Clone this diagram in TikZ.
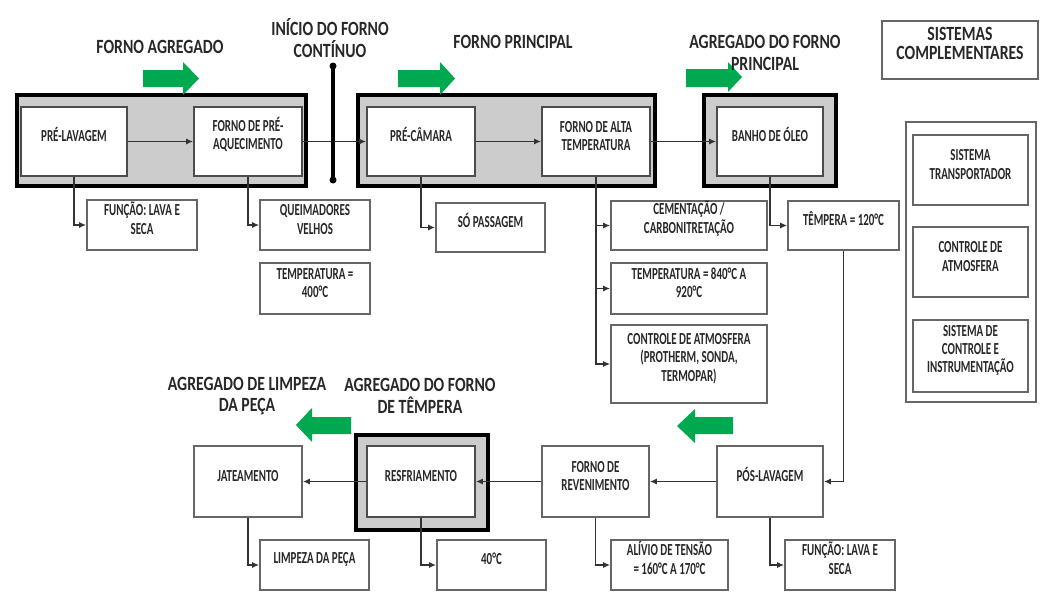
\documentclass[tikz,border=0pt]{standalone}
\usepackage{fontspec}
\setmainfont{Carlito}[FakeStretch=0.78]
\newfontfamily\boxfam{Carlito}[FakeStretch=0.65]
\usetikzlibrary{fit,arrows.meta}
\definecolor{arrowgreen}{RGB}{0,168,80}
\definecolor{ink}{RGB}{40,40,40}
\newcommand{\boxfont}{\boxfam\fontsize{9.6}{10.4}\selectfont\bfseries}
\newcommand{\headfont}{\rmfamily\fontsize{11.5}{12.4}\selectfont\bfseries}
% box from corner (#3,#4) to corner (#5,#6), named #2
\newcommand{\stagebox}[7][inbox]{%
  \node[#1, fit={(#3,#4) (#5,#6)}] (#2) {#7};}
\tikzset{
  inbox/.style={draw=black!70, line width=1pt, fill=white, inner sep=0pt,
    align=center, font=\boxfont, text=ink},
  outbox/.style={draw=black!60, line width=1pt, fill=white, inner sep=0pt,
    align=center, font=\boxfont, text=ink},
  furnace/.style={draw=black, line width=2.2pt, fill=black!20, inner sep=0pt},
  flow/.style={draw=black!80, line width=0.8pt, -{Latex[length=4pt,width=3.5pt]}},
  head/.style={font=\headfont, text=ink, align=center},
  greenarrow/.style={fill=arrowgreen},
}
\begin{document}
\begin{tikzpicture}[x=0.02cm,y=-0.02cm]
\useasboundingbox (0,0) rectangle (1041,613);
\fill[white] (0,0) rectangle (1041,613);

% furnace enclosures
\stagebox[furnace]{agg1}{17}{95}{306}{186}{}
\stagebox[furnace]{main}{358}{95}{655}{186}{}
\stagebox[furnace]{agg2}{704}{95}{836}{186}{}
\stagebox[furnace]{agg3}{356}{435}{488}{530}{}

% main line stages
\stagebox{prelav}{21}{107}{127}{176}{PRÉ-LAVAGEM}
\stagebox{preaq}{194}{107}{302}{176}{FORNO DE PRÉ-\\AQUECIMENTO}
\stagebox{precam}{367}{107}{475}{176}{PRÉ-CÂMARA}
\stagebox{alta}{542}{107}{650}{176}{FORNO DE ALTA\\TEMPERATURA}
\stagebox{banho}{717}{107}{823}{176}{BANHO DE ÓLEO}

% annotations of the upper line
\stagebox[outbox]{func1}{87}{200}{197}{250}{FUNÇÃO: LAVA E\\SECA}
\stagebox[outbox]{queim}{260}{200}{370}{250}{QUEIMADORES\\VELHOS}
\stagebox[outbox]{temp1}{260}{263}{370}{314}{TEMPERATURA =\\400°C}
\stagebox[outbox]{passag}{436}{203}{545}{252}{SÓ PASSAGEM}
\stagebox[outbox]{cement}{611}{201}{767}{250}{CEMENTAÇÃO /\\CARBONITRETAÇÃO}
\stagebox[outbox]{temp2}{611}{263}{767}{314}{TEMPERATURA = 840°C A\\920°C}
\stagebox[outbox]{atmos}{611}{325}{767}{403}{CONTROLE DE ATMOSFERA\\(PROTHERM, SONDA,\\TERMOPAR)}
\stagebox[outbox]{tempera}{788}{201}{899}{250}{TÊMPERA = 120°C}

% lower line stages
\stagebox[outbox]{poslav}{717}{446}{823}{517}{PÓS-LAVAGEM}
\stagebox[outbox]{reven}{542}{446}{649}{517}{FORNO DE\\REVENIMENTO}
\stagebox{resfr}{367}{446}{475}{517}{RESFRIAMENTO}
\stagebox[outbox]{jatea}{194}{446}{302}{517}{JATEAMENTO}

% annotations of the lower line
\stagebox[outbox]{func2}{785}{540}{895}{590}{FUNÇÃO: LAVA E\\SECA}
\stagebox[outbox]{alivio}{611}{540}{728}{590}{ALÍVIO DE TENSÃO\\= 160°C A 170°C}
\stagebox[outbox]{quarenta}{437}{540}{546}{590}{40°C}
\stagebox[outbox]{limpeza}{260}{540}{369}{590}{LIMPEZA DA PEÇA}

% complementary systems
\stagebox[outbox]{sistcomp}{882}{21}{1038}{79}{\headfont SISTEMAS\\\headfont COMPLEMENTARES}
\stagebox[outbox]{sistframe}{906}{122}{1036}{402}{}
\stagebox[outbox]{transp}{913}{135}{1028}{205}{SISTEMA\\TRANSPORTADOR}
\stagebox[outbox]{ctrlatm}{913}{227}{1028}{297}{CONTROLE DE\\ATMOSFERA}
\stagebox[outbox]{instr}{913}{320}{1028}{392}{SISTEMA DE\\CONTROLE E\\INSTRUMENTAÇÃO}

% flow along the upper line
\draw[flow] (prelav) -- (preaq);
\draw[flow] (preaq) -- (precam);
\draw[flow] (precam) -- (alta);
\draw[flow] (alta) -- (banho);

% branches to the annotations
\draw[flow] (prelav.south) |- (func1.west);
\draw[flow] (preaq.south) |- (queim.west);
\draw[flow] (precam.south) |- (passag.west);
\draw[flow] (alta.south) |- (cement.west);
\draw[flow] (alta.south) |- (temp2.west);
\draw[flow] (alta.south) |- (atmos.west);
\draw[flow] (banho.south) |- (tempera.west);
\draw[flow] (tempera.south) |- (poslav.east);

% flow along the lower line
\draw[flow] (poslav) -- (reven);
\draw[flow] (reven) -- (resfr);
\draw[flow] (resfr) -- (jatea);
\draw[flow] (poslav.south) |- (func2.west);
\draw[flow] (reven.south) |- (alivio.west);
\draw[flow] (resfr.south) |- (quarenta.west);
\draw[flow] (jatea.south) |- (limpeza.west);

% start of the continuous furnace
\coordinate (starttop) at (333,66);
\coordinate (startbot) at (333,180);
\draw[line width=2.2pt] (starttop) -- (startbot);
\fill (starttop) circle (3.5);
\fill (startbot) circle (3.5);

% direction arrows
\fill[greenarrow] (143,70) -- (183,70) -- (183,62) -- (199,78.5) -- (183,95) -- (183,87) -- (143,87) -- cycle;
\fill[greenarrow] (398,70) -- (440,70) -- (440,62) -- (455,78.5) -- (440,95) -- (440,87) -- (398,87) -- cycle;
\fill[greenarrow] (686,69) -- (728,69) -- (728,62) -- (742,77) -- (728,92) -- (728,87) -- (686,87) -- cycle;
\fill[greenarrow] (733,417) -- (695,417) -- (695,409) -- (677,426) -- (695,443) -- (695,434) -- (733,434) -- cycle;
\fill[greenarrow] (351,417) -- (312,417) -- (312,408) -- (296,425) -- (312,442) -- (312,434) -- (351,434) -- cycle;

% section titles
\node[head] (tagg1) at (160,47) {FORNO AGREGADO};
\node[head] (tstart) at (330,38) {INÍCIO DO FORNO\\CONTÍNUO};
\node[head] (tmain) at (513,42) {FORNO PRINCIPAL};
\node[head] (tagg2) at (765,53) {AGREGADO DO FORNO\\PRINCIPAL};
\node[head] (tclean) at (247,396) {AGREGADO DE LIMPEZA\\DA PEÇA};
\node[head] (tagg3) at (420,396) {AGREGADO DO FORNO\\DE TÊMPERA};
\end{tikzpicture}
\end{document}
